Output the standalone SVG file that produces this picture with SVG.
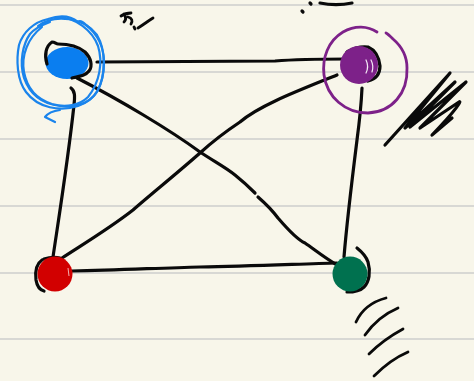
<svg xmlns="http://www.w3.org/2000/svg" width="474" height="381" viewBox="0 0 474 381">
<style>
.rule{stroke:#d8d8d4;stroke-width:2}
.ink{fill:none;stroke:#0a0a0a;stroke-width:3.2;stroke-linecap:round;stroke-linejoin:round}
.thin{fill:none;stroke:#0a0a0a;stroke-width:2.8;stroke-linecap:round;stroke-linejoin:round}
.bring{fill:none;stroke:#1a84ec;stroke-width:2.2;stroke-linecap:round;stroke-linejoin:round}
.pring{fill:none;stroke:#7d2189;stroke-width:2.8;stroke-linecap:round}
.hl{fill:none;stroke:#f4e9f6;stroke-width:1.2;stroke-linecap:round}
</style>
<rect width="474" height="381" fill="#f8f6ea"/>
<g id="paper">
<line class="rule" x1="0" y1="5" x2="474" y2="5"/>
<line class="rule" x1="0" y1="72" x2="474" y2="72"/>
<line class="rule" x1="0" y1="139" x2="474" y2="139"/>
<line class="rule" x1="0" y1="206" x2="474" y2="206"/>
<line class="rule" x1="0" y1="273" x2="474" y2="273"/>
<line class="rule" x1="0" y1="339" x2="474" y2="339"/>
</g>
<g id="connectors">
<path class="ink" d="M 97,62 C 180,62 250,61 275,61 C 300,59 325,59 347,59"/>
<path class="ink" d="M 71,88 C 75,91 75,96 74,105 C 68,160 60,210 53,257"/>
<path class="ink" d="M 77,78 C 120,100 170,130 200,152 C 215,162 225,167 235,175 C 245,183 250,188 255,193 M 258,197 C 266,204 272,210 278,218 C 290,232 298,240 305,243 C 315,250 325,258 337,265"/>
<path class="ink" d="M 337,75 C 300,90 260,105 240,122 C 225,132 212,142 200,153 C 175,175 150,195 133,210 C 110,228 85,243 62,258"/>
<path class="ink" d="M 362,88 C 361,110 359,125 357,140 C 352,180 347,220 344,257"/>
<path class="ink" d="M 72,271 C 120,270 160,268 200,267 C 250,266 300,264 337,263"/>
</g>
<g id="node-blue">
<path class="bring" d="M 48,19 C 62,14 72,17 78,22 C 80,20 83,22 86,25 C 98,34 104,48 104,62 C 104,84 96,100 78,106 C 60,112 38,108 26,92 C 17,80 16,60 19,45 C 23,32 34,22 48,19"/>
<path class="bring" d="M 38,26 C 55,13 85,18 97,35 C 106,50 106,75 97,92 C 90,103 75,108 60,106 C 42,104 30,95 24,78 C 19,62 23,44 30,34 C 35,28 42,25 50,22"/>
<path class="bring" d="M 58,17 C 76,18 92,30 98,46 C 103,62 100,82 88,97 C 80,105 66,108 52,104 C 36,99 27,88 24,72 C 21,55 28,38 42,27"/>
<path class="bring" d="M 55,122 L 45,117 C 48,113 52,111 60,110"/>
<ellipse cx="67" cy="63" rx="21.5" ry="16" fill="#0a7ef0"/>
<path class="ink" d="M 47,64 C 44,55 46,46 52,42 C 55,42 56,44 58,44 C 68,44 78,46 85,52 C 91,58 93,66 89,71 C 86,75 81,76 72,78"/>
<path class="thin" d="M 121,16 C 124,14 127,13 131,13 M 124,14 C 126,17 126,20 124,22 M 128,17 C 132,18 133,21 131,24 M 134,27 L 135,29 M 138,28 C 143,25 148,21 153,18"/>
</g>
<g id="node-purple">
<path class="pring" d="M 377,32 C 368,26 355,25 343,32 C 328,41 322,58 324,75 C 327,97 345,113 368,113 C 392,112 408,93 407,68 C 407,55 400,45 393,39 C 390,36 388,34 386,33"/>
<path class="ink" d="M 347,52 C 354,48 361,46 368,47 C 375,50 379,58 380,66 C 380,74 376,79 368,81"/>
<circle cx="359" cy="65" r="19" fill="#7d2189"/>
<path class="hl" d="M 366,60 C 368,64 368,69 366,73 M 371,60 C 373,64 373,69 372,72"/>
<path class="ink" d="M 385,145 L 450,73 L 405,128 L 455,82 L 410,127 L 466,82 L 420,128 L 459,102 C 462,100 458,108 432,135 L 452,118"/>
<path class="ink" d="M 302,11 L 303,12 M 310,3 L 311,4 M 320,3 C 330,5 342,5 352,3"/>
</g>
<g id="node-red">
<path class="ink" d="M 42,260 C 36,264 35,272 36,280 C 37,286 40,290 44,291 M 44,259 C 50,257 56,257 60,258"/>
<circle cx="55" cy="274" r="17.5" fill="#d20000"/>
<path fill="none" stroke="#f2b0b0" stroke-width="1" d="M 68,268 L 69,276"/>
</g>
<g id="node-green">
<path class="ink" d="M 357,248 C 362,252 366,256 368,262 C 371,272 369,282 364,287 C 359,292 352,292 347,292"/>
<circle cx="350" cy="274" r="17.5" fill="#00714f"/>
<path class="thin" d="M 356,322 C 361,311 371,302 386,298 M 365,335 C 372,325 384,314 398,308 M 369,354 C 378,345 390,336 403,329 M 374,376 C 382,368 394,358 408,352"/>
</g>
</svg>
